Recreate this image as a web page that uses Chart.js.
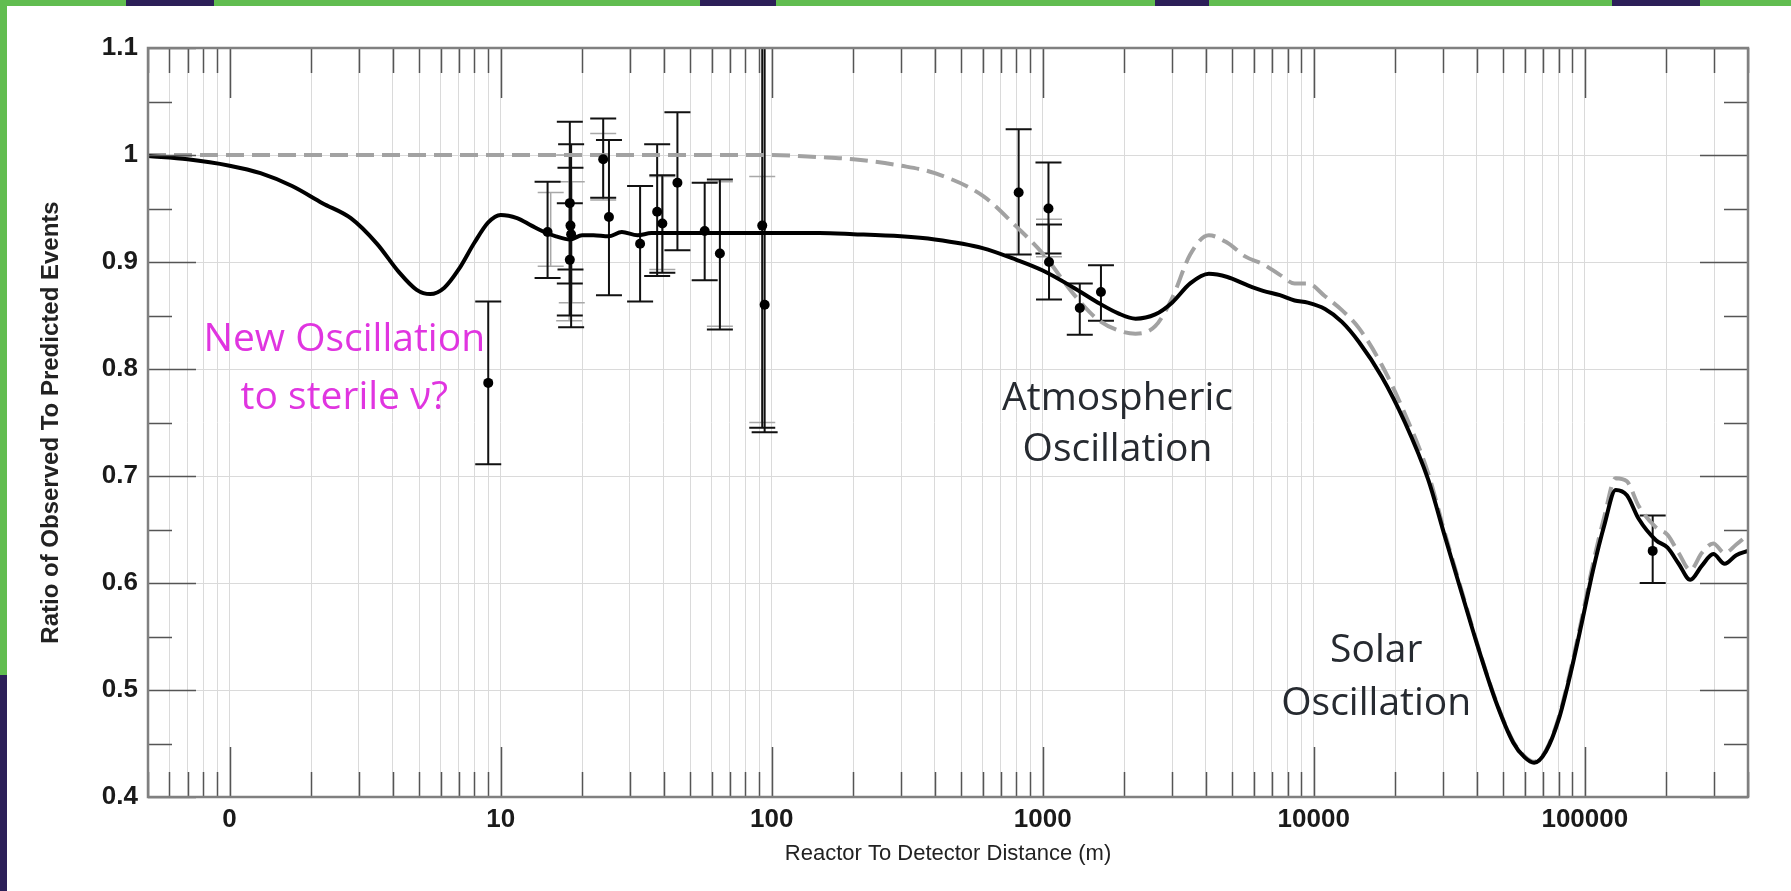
<!DOCTYPE html>
<html>
<head>
<meta charset="utf-8">
<script src="https://cdn.jsdelivr.net/npm/chart.js@4.4.1/dist/chart.umd.min.js"></script>
<style>
  html, body { margin: 0; padding: 0; background: #61bd50; overflow: hidden; }
  #panel { position: absolute; left: 7px; top: 6px; right: 0; bottom: 0; background: #fff; }
  .blob { position: absolute; background: #2c1f58; }
  #wrap { position: absolute; left: 0; top: 0; width: 1791px; height: 891px; }
</style>
</head>
<body>
<div class="blob" style="left:126px;top:0;width:88px;height:6px"></div>
<div class="blob" style="left:700px;top:0;width:76px;height:6px"></div>
<div class="blob" style="left:1155px;top:0;width:54px;height:6px"></div>
<div class="blob" style="left:1612px;top:0;width:88px;height:6px"></div>
<div class="blob" style="left:0;top:675px;width:7px;height:216px"></div>
<div id="panel"></div>
<div id="wrap"><canvas id="myChart"></canvas></div>
<script>
// distance (m) samples for both oscillation curves
let curveX = [0.5, 0.7, 1, 1.3, 1.7, 2.2, 2.8, 3.5, 4.2, 4.9, 5.5, 6.2, 7, 8, 9, 10, 11.5, 13, 14.5, 16, 18, 20, 22, 25, 28, 32, 36, 40, 50, 70, 100, 150, 200, 300, 400, 600, 800, 1000, 1300, 1600, 1900, 2200, 2600, 3000, 3500, 4100, 4800, 5600, 6500, 7500, 8500, 9500, 11000, 12700, 14700, 17800, 21700, 26400, 30500, 35200, 40700, 47000, 54400, 60000, 65000, 72000, 80000, 88500, 97500, 107000, 118000, 130000, 143000, 158000, 183000, 202000, 222000, 245000, 270000, 298000, 328000, 362000, 400000];
// with sterile neutrino (solid)
let withSterile = [0.999, 0.996, 0.990, 0.983, 0.971, 0.955, 0.941, 0.917, 0.891, 0.874, 0.870, 0.876, 0.893, 0.918, 0.937, 0.944, 0.941, 0.934, 0.928, 0.924, 0.921, 0.925, 0.925, 0.924, 0.928, 0.925, 0.927, 0.927, 0.927, 0.927, 0.927, 0.927, 0.926, 0.924, 0.921, 0.913, 0.902, 0.892, 0.876, 0.862, 0.852, 0.847, 0.851, 0.862, 0.880, 0.889, 0.886, 0.879, 0.873, 0.869, 0.864, 0.862, 0.856, 0.844, 0.825, 0.793, 0.750, 0.697, 0.643, 0.590, 0.537, 0.489, 0.451, 0.437, 0.432, 0.443, 0.472, 0.515, 0.563, 0.611, 0.654, 0.687, 0.682, 0.660, 0.640, 0.633, 0.618, 0.603, 0.616, 0.627, 0.618, 0.626, 0.630];
// three flavour only (dashed)
let threeFlavour = [1, 1, 1, 1, 1, 1, 1, 1, 1, 1, 1, 1, 1, 1, 1, 1, 1, 1, 1, 1, 1, 1, 1, 1, 1, 1, 1, 1, 1, 1, 1, 0.998, 0.996, 0.990, 0.983, 0.962, 0.933, 0.908, 0.870, 0.846, 0.836, 0.833, 0.840, 0.866, 0.907, 0.925, 0.918, 0.905, 0.898, 0.888, 0.880, 0.880, 0.868, 0.855, 0.838, 0.804, 0.758, 0.703, 0.646, 0.592, 0.538, 0.490, 0.452, 0.438, 0.433, 0.444, 0.474, 0.518, 0.567, 0.617, 0.662, 0.698, 0.695, 0.672, 0.652, 0.645, 0.628, 0.612, 0.628, 0.637, 0.628, 0.636, 0.645];

// measured ratios
let dataX = [9.0, 14.9, 18.0, 18.1, 18.2, 18.0, 23.9, 25.1, 32.7, 37.8, 39.5, 44.9, 56.6, 64.4, 92.3, 94.2, 815, 1050, 1055, 1370, 1640, 178000];
let dataY = [0.787, 0.928, 0.955, 0.934, 0.926, 0.902, 0.996, 0.942, 0.917, 0.947, 0.936, 0.974, 0.929, 0.908, 0.934, 0.860, 0.965, 0.950, 0.900, 0.857, 0.872, 0.630];
let errLow = [0.711, 0.885, 0.880, 0.893, 0.839, 0.850, 0.960, 0.869, 0.863, 0.887, 0.890, 0.911, 0.883, 0.837, 0.745, 0.741, 0.907, 0.908, 0.865, 0.832, 0.845, 0.600];
let errHigh = [0.863, 0.975, 1.031, 0.988, 1.010, 0.955, 1.034, 1.014, 0.971, 1.010, 0.981, 1.040, 0.974, 0.977, 1.200, 1.200, 1.024, 0.993, 0.935, 0.880, 0.897, 0.663];
// lighter systematic bars
let sysX = [15.3, 17.9, 18.3, 23.9, 39.5, 64.4, 92.3, 1055];
let sysLow = [0.896, 0.845, 0.862, 0.958, 0.893, 0.840, 0.750, 0.905];
let sysHigh = [0.965, 1.000, 0.975, 1.020, 0.980, 0.975, 0.980, 0.940];

let decadeLabels = {1: '0', 10: '10', 100: '100', 1000: '1000', 10000: '10000', 100000: '100000'};
let yLabelValues = [0.4, 0.5, 0.6, 0.7, 0.8, 0.9, 1.0, 1.1];
let yLabels = ['0.4', '0.5', '0.6', '0.7', '0.8', '0.9', '1', '1.1'];

let notes = [
  {text: 'New Oscillation', x: 2.65, y: 0.827, color: '#e035e0'},
  {text: 'to sterile \u03bd?', x: 2.65, y: 0.773, color: '#e035e0'},
  {text: 'Atmospheric', x: 1888, y: 0.772, color: '#262a30'},
  {text: 'Oscillation', x: 1888, y: 0.724, color: '#262a30'},
  {text: 'Solar', x: 17000, y: 0.537, color: '#262a30'},
  {text: 'Oscillation', x: 17000, y: 0.487, color: '#262a30'}
];

let xTicks = [];
for (let e = -1; e <= 5; e++) {
  for (let m = 1; m <= 9; m++) {
    let v = Number((m * Math.pow(10, e)).toPrecision(6));
    if (v >= 0.5 && v <= 400000) xTicks.push(v);
  }
}
let yTicks = [];
for (let i = 0; i <= 14; i++) yTicks.push(Math.round((0.4 + i * 0.05) * 100) / 100);

const isDecade = (v) => Math.abs(Math.log10(v) - Math.round(Math.log10(v))) < 1e-9;
const isTenth = (v) => Math.round(v * 100) % 10 === 0;

function drawBars(ctx, x, y, xs, lows, highs, color, width) {
  ctx.strokeStyle = color;
  ctx.lineWidth = width;
  xs.forEach((v, i) => {
    let px = x.getPixelForValue(v);
    let top = y.getPixelForValue(highs[i]);
    let bot = y.getPixelForValue(lows[i]);
    ctx.beginPath();
    ctx.moveTo(px, top); ctx.lineTo(px, bot);
    ctx.moveTo(px - 13, top); ctx.lineTo(px + 13, top);
    ctx.moveTo(px - 13, bot); ctx.lineTo(px + 13, bot);
    ctx.stroke();
  });
}

const extras = {
  id: 'extras',
  beforeDatasetsDraw(chart) {
    const {ctx, chartArea: a, scales: {x, y}} = chart;
    ctx.save();
    ctx.beginPath();
    ctx.rect(a.left, a.top, a.right - a.left, a.bottom - a.top);
    ctx.clip();
    drawBars(ctx, x, y, sysX, sysLow, sysHigh, '#a8a8a8', 1.5);
    drawBars(ctx, x, y, dataX, errLow, errHigh, '#111', 2);
    ctx.restore();
  },
  afterDraw(chart) {
    const {ctx, chartArea: a, scales: {x, y}} = chart;
    ctx.save();
    // inward tick marks on all four sides
    ctx.strokeStyle = '#555';
    ctx.lineWidth = 1.5;
    ctx.beginPath();
    xTicks.forEach(v => {
      let px = Math.round(x.getPixelForValue(v)) + 0.5;
      let len = isDecade(v) ? 50 : 25;
      ctx.moveTo(px, a.bottom); ctx.lineTo(px, a.bottom - len);
      ctx.moveTo(px, a.top); ctx.lineTo(px, a.top + len);
    });
    yTicks.forEach(v => {
      let py = Math.round(y.getPixelForValue(v)) + 0.5;
      let len = isTenth(v) ? 48 : 24;
      ctx.moveTo(a.left, py); ctx.lineTo(a.left + len, py);
      ctx.moveTo(a.right, py); ctx.lineTo(a.right - len, py);
    });
    ctx.stroke();
    ctx.strokeStyle = '#808080';
    ctx.lineWidth = 2.5;
    ctx.strokeRect(a.left, a.top, a.right - a.left, a.bottom - a.top);
    // text notes
    ctx.font = '39px "Open Sans", sans-serif';
    ctx.textAlign = 'center';
    ctx.textBaseline = 'middle';
    notes.forEach(n => {
      ctx.fillStyle = n.color;
      ctx.fillText(n.text, x.getPixelForValue(n.x), y.getPixelForValue(n.y));
    });
    ctx.restore();
  }
};

let ctx = document.getElementById('myChart').getContext('2d');
let tickFont = {family: '"Liberation Sans", Arial, sans-serif', size: 26, weight: 'bold'};

let myChart = new Chart(ctx, {
  type: 'line',
  data: {
    datasets: [{
      type: 'scatter',
      data: dataX.map((v, i) => ({x: v, y: dataY[i]})),
      pointRadius: 5,
      pointBackgroundColor: '#000',
      pointBorderWidth: 0,
      showLine: false
    }, {
      data: curveX.map((v, i) => ({x: v, y: withSterile[i]})),
      borderColor: '#000',
      borderWidth: 4,
      pointRadius: 0,
      cubicInterpolationMode: 'monotone'
    }, {
      data: curveX.map((v, i) => ({x: v, y: threeFlavour[i]})),
      borderColor: '#a2a2a2',
      borderWidth: 4,
      borderDash: [18, 8],
      pointRadius: 0,
      cubicInterpolationMode: 'monotone'
    }]
  },
  options: {
    responsive: true,
    maintainAspectRatio: false,
    animation: false,
    layout: {padding: {left: 0, top: 48, right: 43, bottom: 0}},
    plugins: {legend: {display: false}, tooltip: {enabled: false}},
    scales: {
      x: {
        type: 'logarithmic',
        min: 0.5,
        max: 400000,
        afterBuildTicks: (scale) => { scale.ticks = xTicks.map(v => ({value: v})); },
        afterFit: (scale) => { scale.height = 94; },
        grid: {color: '#dadada', lineWidth: 1, drawTicks: false},
        border: {display: false},
        ticks: {
          autoSkip: false, maxRotation: 0, minRotation: 0, padding: 7,
          color: '#1a1a1a', font: tickFont,
          callback: (value) => decadeLabels[value] || ''
        },
        title: {
          display: true,
          text: 'Reactor To Detector Distance (m)',
          color: '#222',
          font: {family: '"Liberation Sans", Arial, sans-serif', size: 22},
          padding: {top: 0, bottom: 24}
        }
      },
      y: {
        min: 0.4,
        max: 1.1,
        afterBuildTicks: (scale) => { scale.ticks = yTicks.map(v => ({value: v})); },
        afterFit: (scale) => { scale.width = 148; },
        grid: {
          color: (c) => (c.tick && isTenth(c.tick.value)) ? '#dadada' : 'rgba(0,0,0,0)',
          lineWidth: 1, drawTicks: false
        },
        border: {display: false},
        ticks: {
          autoSkip: false, padding: 10, color: '#1a1a1a', font: tickFont,
          callback: (value) => {
            let i = yLabelValues.findIndex(t => Math.abs(t - value) < 1e-6);
            return i >= 0 ? yLabels[i] : '';
          }
        },
        title: {
          display: true,
          text: 'Ratio of Observed To Predicted Events',
          color: '#222',
          font: {family: '"Liberation Sans", Arial, sans-serif', size: 24, weight: 'bold'},
          padding: {top: 37, bottom: 0}
        }
      }
    }
  },
  plugins: [extras]
});
</script>
</body>
</html>
